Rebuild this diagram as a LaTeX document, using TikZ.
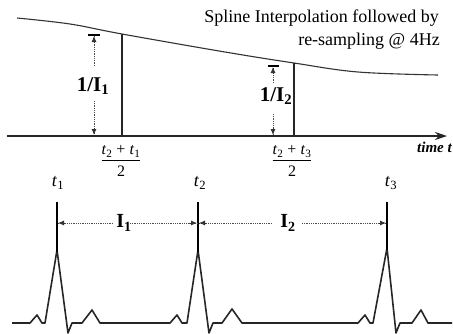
\documentclass[tikz,border=0pt]{standalone}
\usepackage{fontspec}
\setmainfont{Liberation Serif}
\usetikzlibrary{arrows.meta,calc}
\newcommand{\tsub}[2]{\textit{#1}\textsubscript{#2}}
\newcommand{\dotarrow}[2]{%
  \draw[dotline] (#1) -- (#2);
  \draw[solid, line width=0.8pt, black!80, -{Latex[length=6pt,width=5pt]}] ($(#2)!7pt!(#1)$) -- (#2);}
\begin{document}
\begin{tikzpicture}[x=1pt,y=-1pt,
  thick line/.style={line width=1.6pt, line join=round, black!85},
  dotline/.style={line width=0.8pt, densely dotted, black!70},
  lbl/.style={inner sep=0pt, font=\fontsize{21}{23}\selectfont\bfseries},
  tlbl/.style={inner sep=0pt, font=\fontsize{18}{20}\selectfont},
  frac/.style={inner sep=0pt, font=\fontsize{16}{18}\selectfont}]
\useasboundingbox (0,0) rectangle (453,333);

% spline curve
\coordinate (c1) at (122,34);
\coordinate (c2) at (294,63);
\draw[line width=1.1pt, black!80] plot[smooth, tension=0.6] coordinates
  {(17,18) (70,24) (122,34) (225,52) (294,63) (358,72) (438,75)};

% time axis
\coordinate (a0) at (7,136);
\coordinate (a1) at (447,136);
\draw[thick line, -{Stealth[length=12pt,width=8pt]}] (a0) -- (a1);
\node[anchor=east, inner sep=0pt, font=\fontsize{15}{17}\selectfont\bfseries\itshape] (tt) at (452,147) {time t};

% sample lines
\coordinate (b1) at (122,136);
\coordinate (b2) at (294,136);
\draw[thick line] (c1) -- (b1);
\draw[thick line] (c2) -- (b2);

% 1/I1 arrows
\draw[line width=1.2pt] (88,35) -- (100,35);
\node[lbl] (l1) at (93,86) {1/I\textsubscript{1}};
\coordinate (u1s) at (94,66);
\coordinate (u1e) at (94,36);
\coordinate (d1s) at (94,101);
\coordinate (d1e) at (94,135);
\dotarrow{u1s}{u1e}
\dotarrow{d1s}{d1e}

% 1/I2 arrows
\draw[line width=1.2pt] (268,66) -- (279,66);
\node[lbl] (l2) at (276,96) {1/I\textsubscript{2}};
\coordinate (u2s) at (273,83);
\coordinate (u2e) at (273,67);
\coordinate (d2s) at (273,114);
\coordinate (d2e) at (273,135);
\dotarrow{u2s}{u2e}
\dotarrow{d2s}{d2e}

% fractions
\node[frac] (f1) at (121,162) {\begin{tabular}{@{}c@{}}\tsub{t}{2} + \tsub{t}{1}\\[0pt]\hline\rule{0pt}{16pt}2\end{tabular}};
\node[frac] (f2) at (292,162) {\begin{tabular}{@{}c@{}}\tsub{t}{2} + \tsub{t}{3}\\[0pt]\hline\rule{0pt}{16pt}2\end{tabular}};

% title
\node[anchor=east, inner sep=0pt, font=\fontsize{18}{20}\selectfont] (s1) at (439,18) {Spline Interpolation followed by};
\node[anchor=east, inner sep=0pt, font=\fontsize{18}{20}\selectfont] (s2) at (440,41) {re-sampling @ 4Hz};

% ECG
\draw[thick line] (12,323) -- (30,323) -- (37,315) -- (42,323) -- (45,323) -- (57,250) -- (68,333) -- (72,323) -- (82,323) -- (92,310) -- (100,323) -- (170,323) -- (177,315) -- (182,323) -- (187,323) -- (198,250) -- (209,333) -- (213,323) -- (222,323) -- (232,309) -- (242,323) -- (358,323) -- (365,315) -- (370,323) -- (373,323) -- (387,248) -- (396,333) -- (400,323) -- (412,323) -- (421,310) -- (428,323) -- (452,323);

% R markers
\coordinate (r1t) at (57,202); \coordinate (r1b) at (57,252);
\coordinate (r2t) at (198,202); \coordinate (r2b) at (198,252);
\coordinate (r3t) at (387,202); \coordinate (r3b) at (387,250);
\draw[line width=1.1pt] (r1t) -- (r1b);
\draw[line width=1.1pt] (r2t) -- (r2b);
\draw[line width=1.1pt] (r3t) -- (r3b);
\node[tlbl] (t1) at (58,183) {\tsub{t}{1}};
\node[tlbl] (t2) at (200,183) {\tsub{t}{2}};
\node[tlbl] (t3) at (391,183) {\tsub{t}{3}};

% interval arrows
\node[inner sep=0pt, font=\fontsize{20}{22}\selectfont\bfseries] (i1) at (124,223) {I\textsubscript{1}};
\node[inner sep=0pt, font=\fontsize{20}{22}\selectfont\bfseries] (i2) at (288,223) {I\textsubscript{2}};
\coordinate (i1a) at (58,223); \coordinate (i1b) at (113,223);
\coordinate (i1c) at (130,223); \coordinate (i1d) at (197,223);
\coordinate (i2a) at (199,223); \coordinate (i2b) at (272,223);
\coordinate (i2c) at (302,223); \coordinate (i2d) at (386,223);
\dotarrow{i1b}{i1a}
\dotarrow{i1c}{i1d}
\dotarrow{i2b}{i2a}
\dotarrow{i2c}{i2d}
\end{tikzpicture}
\end{document}
